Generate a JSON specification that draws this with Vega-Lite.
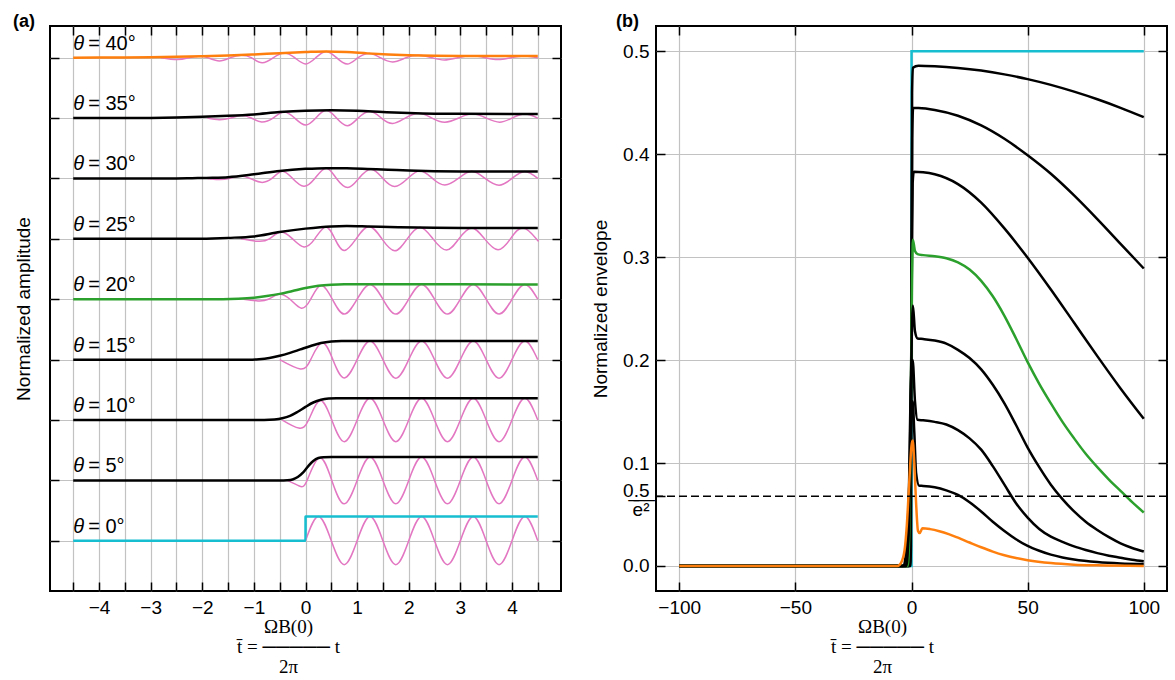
{
"$schema":"https://vega.github.io/schema/vega-lite/v6.json",
"background":"white",
"padding":{"left":12,"top":12,"right":4,"bottom":0},
"spacing":27,
"config":{
 "view":{"stroke":"black","strokeWidth":2},
 "axis":{"domain":false,"ticks":true,"tickColor":"black","tickWidth":1.5,"tickSize":-9,"labelFont":"Liberation Sans","labelFontSize":19,"labelColor":"black","labelPadding":16,"titleFont":"Liberation Sans","titleFontSize":19,"titleFontWeight":"normal","titleColor":"black","gridColor":"#c2c2c2","gridWidth":1.2,"labelOverlap":false,"labelFlush":false},
 "title":{"font":"Liberation Sans","fontSize":18,"fontWeight":"bold","anchor":"start","frame":"group","baseline":"alphabetic","offset":-6,"color":"black"}
},
"datasets":{
"pinkL":[
{"s":"p0","x":0,"y":0},{"s":"p0","x":0.25,"y":0.5},{"s":"p0","x":0.5,"y":0},{"s":"p0","x":0.75,"y":-0.49},{"s":"p0","x":1,"y":0},{"s":"p0","x":1.25,"y":0.5},{"s":"p0","x":1.5,"y":0},{"s":"p0","x":1.75,"y":-0.49},{"s":"p0","x":2,"y":0},{"s":"p0","x":2.25,"y":0.5},{"s":"p0","x":2.5,"y":0},{"s":"p0","x":2.75,"y":-0.49},{"s":"p0","x":3,"y":0},{"s":"p0","x":3.25,"y":0.5},{"s":"p0","x":3.5,"y":0},{"s":"p0","x":3.75,"y":-0.49},{"s":"p0","x":4,"y":0},{"s":"p0","x":4.25,"y":0.5},{"s":"p0","x":4.5,"y":0},
{"s":"p5","x":-0.35,"y":1.24},{"s":"p5","x":-0.12,"y":1.125},{"s":"p5","x":0.03,"y":1.24},{"s":"p5","x":0.27,"y":1.705},{"s":"p5","x":0.51,"y":1.24},{"s":"p5","x":0.75,"y":0.76},{"s":"p5","x":1,"y":1.24},{"s":"p5","x":1.25,"y":1.72},{"s":"p5","x":1.5,"y":1.24},{"s":"p5","x":1.75,"y":0.76},{"s":"p5","x":2,"y":1.24},{"s":"p5","x":2.25,"y":1.72},{"s":"p5","x":2.5,"y":1.24},{"s":"p5","x":2.75,"y":0.76},{"s":"p5","x":3,"y":1.24},{"s":"p5","x":3.25,"y":1.72},{"s":"p5","x":3.5,"y":1.24},{"s":"p5","x":3.75,"y":0.76},{"s":"p5","x":4,"y":1.24},{"s":"p5","x":4.25,"y":1.72},{"s":"p5","x":4.5,"y":1.24},
{"s":"p10","x":-0.45,"y":2.48},{"s":"p10","x":-0.13,"y":2.315},{"s":"p10","x":0.06,"y":2.48},{"s":"p10","x":0.28,"y":2.88},{"s":"p10","x":0.51,"y":2.48},{"s":"p10","x":0.75,"y":2.035},{"s":"p10","x":1,"y":2.48},{"s":"p10","x":1.25,"y":2.925},{"s":"p10","x":1.5,"y":2.48},{"s":"p10","x":1.75,"y":2.035},{"s":"p10","x":2,"y":2.48},{"s":"p10","x":2.25,"y":2.925},{"s":"p10","x":2.5,"y":2.48},{"s":"p10","x":2.75,"y":2.035},{"s":"p10","x":3,"y":2.48},{"s":"p10","x":3.25,"y":2.925},{"s":"p10","x":3.5,"y":2.48},{"s":"p10","x":3.75,"y":2.035},{"s":"p10","x":4,"y":2.48},{"s":"p10","x":4.25,"y":2.925},{"s":"p10","x":4.5,"y":2.48},
{"s":"p15","x":-0.5,"y":3.72},{"s":"p15","x":-0.1,"y":3.53},{"s":"p15","x":0.1,"y":3.72},{"s":"p15","x":0.32,"y":4.065},{"s":"p15","x":0.53,"y":3.72},{"s":"p15","x":0.75,"y":3.345},{"s":"p15","x":1,"y":3.72},{"s":"p15","x":1.25,"y":4.103},{"s":"p15","x":1.5,"y":3.72},{"s":"p15","x":1.75,"y":3.337},{"s":"p15","x":2,"y":3.72},{"s":"p15","x":2.25,"y":4.103},{"s":"p15","x":2.5,"y":3.72},{"s":"p15","x":2.75,"y":3.337},{"s":"p15","x":3,"y":3.72},{"s":"p15","x":3.25,"y":4.103},{"s":"p15","x":3.5,"y":3.72},{"s":"p15","x":3.75,"y":3.337},{"s":"p15","x":4,"y":3.72},{"s":"p15","x":4.25,"y":4.103},{"s":"p15","x":4.5,"y":3.72},
{"s":"p20","x":-1.2,"y":4.96},{"s":"p20","x":-0.92,"y":4.925},{"s":"p20","x":-0.72,"y":4.96},{"s":"p20","x":-0.52,"y":5.06},{"s":"p20","x":-0.3,"y":4.96},{"s":"p20","x":-0.08,"y":4.775},{"s":"p20","x":0.1,"y":4.96},{"s":"p20","x":0.3,"y":5.24},{"s":"p20","x":0.52,"y":4.96},{"s":"p20","x":0.75,"y":4.655},{"s":"p20","x":1,"y":4.96},{"s":"p20","x":1.25,"y":5.265},{"s":"p20","x":1.5,"y":4.96},{"s":"p20","x":1.75,"y":4.655},{"s":"p20","x":2,"y":4.96},{"s":"p20","x":2.25,"y":5.265},{"s":"p20","x":2.5,"y":4.96},{"s":"p20","x":2.75,"y":4.655},{"s":"p20","x":3,"y":4.96},{"s":"p20","x":3.25,"y":5.265},{"s":"p20","x":3.5,"y":4.96},{"s":"p20","x":3.75,"y":4.655},{"s":"p20","x":4,"y":4.96},{"s":"p20","x":4.25,"y":5.265},{"s":"p20","x":4.5,"y":4.96},
{"s":"p25","x":-1.25,"y":6.2},{"s":"p25","x":-0.93,"y":6.15},{"s":"p25","x":-0.7,"y":6.2},{"s":"p25","x":-0.48,"y":6.34},{"s":"p25","x":-0.25,"y":6.2},{"s":"p25","x":-0.03,"y":6.035},{"s":"p25","x":0.18,"y":6.2},{"s":"p25","x":0.39,"y":6.445},{"s":"p25","x":0.57,"y":6.2},{"s":"p25","x":0.75,"y":5.96},{"s":"p25","x":0.98,"y":6.2},{"s":"p25","x":1.23,"y":6.455},{"s":"p25","x":1.48,"y":6.2},{"s":"p25","x":1.73,"y":5.955},{"s":"p25","x":1.97,"y":6.2},{"s":"p25","x":2.22,"y":6.44},{"s":"p25","x":2.47,"y":6.2},{"s":"p25","x":2.73,"y":5.97},{"s":"p25","x":2.97,"y":6.2},{"s":"p25","x":3.22,"y":6.425},{"s":"p25","x":3.47,"y":6.2},{"s":"p25","x":3.73,"y":5.975},{"s":"p25","x":3.97,"y":6.2},{"s":"p25","x":4.22,"y":6.423},{"s":"p25","x":4.47,"y":6.2},{"s":"p25","x":4.5,"y":6.175},
{"s":"p30","x":-1.9,"y":7.44},{"s":"p30","x":-1.69,"y":7.42},{"s":"p30","x":-1.48,"y":7.44},{"s":"p30","x":-1.27,"y":7.49},{"s":"p30","x":-1.07,"y":7.44},{"s":"p30","x":-0.86,"y":7.36},{"s":"p30","x":-0.65,"y":7.44},{"s":"p30","x":-0.45,"y":7.59},{"s":"p30","x":-0.25,"y":7.44},{"s":"p30","x":-0.03,"y":7.28},{"s":"p30","x":0.18,"y":7.44},{"s":"p30","x":0.4,"y":7.65},{"s":"p30","x":0.6,"y":7.44},{"s":"p30","x":0.82,"y":7.255},{"s":"p30","x":1.03,"y":7.44},{"s":"p30","x":1.27,"y":7.63},{"s":"p30","x":1.5,"y":7.44},{"s":"p30","x":1.73,"y":7.275},{"s":"p30","x":1.98,"y":7.44},{"s":"p30","x":2.22,"y":7.598},{"s":"p30","x":2.46,"y":7.44},{"s":"p30","x":2.7,"y":7.305},{"s":"p30","x":2.96,"y":7.44},{"s":"p30","x":3.22,"y":7.587},{"s":"p30","x":3.48,"y":7.44},{"s":"p30","x":3.75,"y":7.3},{"s":"p30","x":4,"y":7.44},{"s":"p30","x":4.25,"y":7.583},{"s":"p30","x":4.5,"y":7.44},
{"s":"p35","x":-1.9,"y":8.68},{"s":"p35","x":-1.67,"y":8.645},{"s":"p35","x":-1.45,"y":8.68},{"s":"p35","x":-1.25,"y":8.73},{"s":"p35","x":-1.05,"y":8.68},{"s":"p35","x":-0.85,"y":8.6},{"s":"p35","x":-0.63,"y":8.68},{"s":"p35","x":-0.42,"y":8.805},{"s":"p35","x":-0.21,"y":8.68},{"s":"p35","x":0,"y":8.535},{"s":"p35","x":0.2,"y":8.68},{"s":"p35","x":0.4,"y":8.838},{"s":"p35","x":0.6,"y":8.68},{"s":"p35","x":0.81,"y":8.522},{"s":"p35","x":1.02,"y":8.68},{"s":"p35","x":1.25,"y":8.82},{"s":"p35","x":1.47,"y":8.68},{"s":"p35","x":1.69,"y":8.57},{"s":"p35","x":1.93,"y":8.68},{"s":"p35","x":2.2,"y":8.78},{"s":"p35","x":2.45,"y":8.68},{"s":"p35","x":2.7,"y":8.595},{"s":"p35","x":2.97,"y":8.68},{"s":"p35","x":3.23,"y":8.766},{"s":"p35","x":3.5,"y":8.68},{"s":"p35","x":3.76,"y":8.595},{"s":"p35","x":4,"y":8.68},{"s":"p35","x":4.25,"y":8.765},{"s":"p35","x":4.5,"y":8.68},
{"s":"p40","x":-2.8,"y":9.92},{"s":"p40","x":-2.48,"y":9.88},{"s":"p40","x":-2.25,"y":9.92},{"s":"p40","x":-2.07,"y":9.947},{"s":"p40","x":-1.9,"y":9.92},{"s":"p40","x":-1.67,"y":9.852},{"s":"p40","x":-1.45,"y":9.92},{"s":"p40","x":-1.25,"y":9.97},{"s":"p40","x":-1.05,"y":9.92},{"s":"p40","x":-0.84,"y":9.815},{"s":"p40","x":-0.62,"y":9.92},{"s":"p40","x":-0.42,"y":10.015},{"s":"p40","x":-0.21,"y":9.92},{"s":"p40","x":0,"y":9.792},{"s":"p40","x":0.2,"y":9.92},{"s":"p40","x":0.4,"y":10.048},{"s":"p40","x":0.6,"y":9.92},{"s":"p40","x":0.81,"y":9.788},{"s":"p40","x":1.02,"y":9.92},{"s":"p40","x":1.24,"y":10.005},{"s":"p40","x":1.45,"y":9.92},{"s":"p40","x":1.69,"y":9.832},{"s":"p40","x":1.95,"y":9.92},{"s":"p40","x":2.2,"y":9.97},{"s":"p40","x":2.45,"y":9.92},{"s":"p40","x":2.69,"y":9.872},{"s":"p40","x":2.95,"y":9.92},{"s":"p40","x":3.22,"y":9.957},{"s":"p40","x":3.48,"y":9.92},{"s":"p40","x":3.73,"y":9.88},{"s":"p40","x":3.98,"y":9.92},{"s":"p40","x":4.24,"y":9.955},{"s":"p40","x":4.5,"y":9.92}
],
"envL":[
{"s":"e0","x":-4.5,"y":0},{"s":"e0","x":0,"y":0},{"s":"e0","x":0.001,"y":0.5},{"s":"e0","x":4.5,"y":0.5},
{"s":"e5","x":-4.5,"y":1.24},{"s":"e5","x":-0.5,"y":1.24},{"s":"e5","x":-0.35,"y":1.245},{"s":"e5","x":-0.25,"y":1.26},{"s":"e5","x":-0.15,"y":1.31},{"s":"e5","x":-0.05,"y":1.4},{"s":"e5","x":0.05,"y":1.53},{"s":"e5","x":0.15,"y":1.64},{"s":"e5","x":0.25,"y":1.7},{"s":"e5","x":0.35,"y":1.718},{"s":"e5","x":0.5,"y":1.722},{"s":"e5","x":4.5,"y":1.72},
{"s":"e10","x":-4.5,"y":2.48},{"s":"e10","x":-0.8,"y":2.48},{"s":"e10","x":-0.6,"y":2.49},{"s":"e10","x":-0.45,"y":2.515},{"s":"e10","x":-0.3,"y":2.565},{"s":"e10","x":-0.15,"y":2.65},{"s":"e10","x":0,"y":2.75},{"s":"e10","x":0.15,"y":2.84},{"s":"e10","x":0.3,"y":2.895},{"s":"e10","x":0.45,"y":2.92},{"s":"e10","x":0.6,"y":2.927},{"s":"e10","x":4.5,"y":2.925},
{"s":"e15","x":-4.5,"y":3.72},{"s":"e15","x":-1.1,"y":3.72},{"s":"e15","x":-0.9,"y":3.73},{"s":"e15","x":-0.7,"y":3.755},{"s":"e15","x":-0.5,"y":3.8},{"s":"e15","x":-0.3,"y":3.86},{"s":"e15","x":-0.1,"y":3.93},{"s":"e15","x":0.1,"y":4.0},{"s":"e15","x":0.3,"y":4.06},{"s":"e15","x":0.5,"y":4.092},{"s":"e15","x":0.7,"y":4.103},{"s":"e15","x":1,"y":4.105},{"s":"e15","x":4.5,"y":4.103},
{"s":"e20","x":-4.5,"y":4.96},{"s":"e20","x":-1.6,"y":4.96},{"s":"e20","x":-1.3,"y":4.968},{"s":"e20","x":-1,"y":4.99},{"s":"e20","x":-0.75,"y":5.025},{"s":"e20","x":-0.5,"y":5.07},{"s":"e20","x":-0.25,"y":5.13},{"s":"e20","x":0,"y":5.19},{"s":"e20","x":0.25,"y":5.235},{"s":"e20","x":0.5,"y":5.258},{"s":"e20","x":0.75,"y":5.268},{"s":"e20","x":1,"y":5.269},{"s":"e20","x":1.5,"y":5.266},{"s":"e20","x":4.5,"y":5.265},
{"s":"e25","x":-4.5,"y":6.2},{"s":"e25","x":-2.2,"y":6.2},{"s":"e25","x":-1.8,"y":6.208},{"s":"e25","x":-1.5,"y":6.22},{"s":"e25","x":-1,"y":6.25},{"s":"e25","x":-0.5,"y":6.34},{"s":"e25","x":0,"y":6.41},{"s":"e25","x":0.5,"y":6.455},{"s":"e25","x":0.8,"y":6.462},{"s":"e25","x":1.2,"y":6.455},{"s":"e25","x":1.8,"y":6.44},{"s":"e25","x":2.5,"y":6.428},{"s":"e25","x":3.5,"y":6.424},{"s":"e25","x":4.5,"y":6.423},
{"s":"e30","x":-4.5,"y":7.44},{"s":"e30","x":-2.5,"y":7.44},{"s":"e30","x":-2.2,"y":7.445},{"s":"e30","x":-1.8,"y":7.453},{"s":"e30","x":-1.5,"y":7.467},{"s":"e30","x":-1,"y":7.525},{"s":"e30","x":-0.5,"y":7.595},{"s":"e30","x":0,"y":7.637},{"s":"e30","x":0.4,"y":7.652},{"s":"e30","x":0.8,"y":7.648},{"s":"e30","x":1.2,"y":7.635},{"s":"e30","x":1.6,"y":7.62},{"s":"e30","x":2,"y":7.603},{"s":"e30","x":2.5,"y":7.59},{"s":"e30","x":3,"y":7.585},{"s":"e30","x":4.5,"y":7.583},
{"s":"e35","x":-4.5,"y":8.68},{"s":"e35","x":-3,"y":8.683},{"s":"e35","x":-2.5,"y":8.69},{"s":"e35","x":-2,"y":8.705},{"s":"e35","x":-1.5,"y":8.725},{"s":"e35","x":-1,"y":8.755},{"s":"e35","x":-0.5,"y":8.802},{"s":"e35","x":0,"y":8.83},{"s":"e35","x":0.5,"y":8.838},{"s":"e35","x":1,"y":8.83},{"s":"e35","x":1.5,"y":8.805},{"s":"e35","x":2,"y":8.783},{"s":"e35","x":2.5,"y":8.77},{"s":"e35","x":3,"y":8.766},{"s":"e35","x":4.5,"y":8.765},
{"s":"e40","x":-4.5,"y":9.92},{"s":"e40","x":-4,"y":9.922},{"s":"e40","x":-3.5,"y":9.925},{"s":"e40","x":-3,"y":9.93},{"s":"e40","x":-2.5,"y":9.938},{"s":"e40","x":-2,"y":9.948},{"s":"e40","x":-1.5,"y":9.962},{"s":"e40","x":-1,"y":9.985},{"s":"e40","x":-0.5,"y":10.012},{"s":"e40","x":0,"y":10.035},{"s":"e40","x":0.4,"y":10.048},{"s":"e40","x":0.8,"y":10.035},{"s":"e40","x":1.2,"y":10.008},{"s":"e40","x":1.6,"y":9.985},{"s":"e40","x":2,"y":9.97},{"s":"e40","x":2.5,"y":9.96},{"s":"e40","x":3,"y":9.956},{"s":"e40","x":4.5,"y":9.955}
],
"labL":[
{"x":-4.5,"y":0,"t":"= 0°"},{"x":-4.5,"y":1.24,"t":"= 5°"},{"x":-4.5,"y":2.48,"t":"= 10°"},{"x":-4.5,"y":3.72,"t":"= 15°"},{"x":-4.5,"y":4.96,"t":"= 20°"},{"x":-4.5,"y":6.2,"t":"= 25°"},{"x":-4.5,"y":7.44,"t":"= 30°"},{"x":-4.5,"y":8.68,"t":"= 35°"},{"x":-4.5,"y":9.92,"t":"= 40°"}
],
"envR":[
{"s":"r0","x":-100,"y":0},{"s":"r0","x":0,"y":0},{"s":"r0","x":0.01,"y":0.5},{"s":"r0","x":100,"y":0.5},
{"s":"r5","x":-100,"y":0},{"s":"r5","x":-0.5,"y":0},{"s":"r5","x":-0.25,"y":0.02},{"s":"r5","x":0,"y":0.22},{"s":"r5","x":0.25,"y":0.46},{"s":"r5","x":0.6,"y":0.484},{"s":"r5","x":3,"y":0.486},{"s":"r5","x":10,"y":0.4855},{"s":"r5","x":20,"y":0.4839},{"s":"r5","x":30,"y":0.4813},{"s":"r5","x":40,"y":0.4776},{"s":"r5","x":50,"y":0.473},{"s":"r5","x":60,"y":0.4674},{"s":"r5","x":70,"y":0.4608},{"s":"r5","x":80,"y":0.4534},{"s":"r5","x":90,"y":0.4451},{"s":"r5","x":100,"y":0.436},
{"s":"r10","x":-100,"y":0},{"s":"r10","x":-0.8,"y":0},{"s":"r10","x":-0.3,"y":0.085},{"s":"r10","x":0,"y":0.27},{"s":"r10","x":0.3,"y":0.415},{"s":"r10","x":0.7,"y":0.445},{"s":"r10","x":3,"y":0.4449},{"s":"r10","x":10,"y":0.443},{"s":"r10","x":20,"y":0.4374},{"s":"r10","x":30,"y":0.428},{"s":"r10","x":40,"y":0.415},{"s":"r10","x":50,"y":0.399},{"s":"r10","x":60,"y":0.381},{"s":"r10","x":70,"y":0.36},{"s":"r10","x":80,"y":0.337},{"s":"r10","x":90,"y":0.313},{"s":"r10","x":100,"y":0.289},
{"s":"r15","x":-100,"y":0},{"s":"r15","x":-1.1,"y":0},{"s":"r15","x":-0.5,"y":0.08},{"s":"r15","x":0,"y":0.245},{"s":"r15","x":0.5,"y":0.372},{"s":"r15","x":1,"y":0.383},{"s":"r15","x":5,"y":0.3825},{"s":"r15","x":10,"y":0.3805},{"s":"r15","x":20,"y":0.371},{"s":"r15","x":30,"y":0.353},{"s":"r15","x":40,"y":0.328},{"s":"r15","x":50,"y":0.2995},{"s":"r15","x":60,"y":0.2686},{"s":"r15","x":70,"y":0.2363},{"s":"r15","x":80,"y":0.2039},{"s":"r15","x":90,"y":0.1725},{"s":"r15","x":100,"y":0.143},
{"s":"r20","x":-100,"y":0},{"s":"r20","x":-1.6,"y":0},{"s":"r20","x":-1,"y":0.03},{"s":"r20","x":-0.5,"y":0.11},{"s":"r20","x":0,"y":0.23},{"s":"r20","x":0.6,"y":0.317},{"s":"r20","x":1.5,"y":0.306},{"s":"r20","x":2.6,"y":0.303},{"s":"r20","x":5,"y":0.302},{"s":"r20","x":10,"y":0.301},{"s":"r20","x":15,"y":0.299},{"s":"r20","x":20,"y":0.295},{"s":"r20","x":25,"y":0.288},{"s":"r20","x":30,"y":0.277},{"s":"r20","x":35,"y":0.262},{"s":"r20","x":40,"y":0.243},{"s":"r20","x":45,"y":0.221},{"s":"r20","x":50,"y":0.198},{"s":"r20","x":55,"y":0.177},{"s":"r20","x":60,"y":0.158},{"s":"r20","x":65,"y":0.14},{"s":"r20","x":70,"y":0.124},{"s":"r20","x":75,"y":0.109},{"s":"r20","x":80,"y":0.096},{"s":"r20","x":85,"y":0.084},{"s":"r20","x":90,"y":0.073},{"s":"r20","x":95,"y":0.062},{"s":"r20","x":100,"y":0.052},
{"s":"r25","x":-100,"y":0},{"s":"r25","x":-2.2,"y":0},{"s":"r25","x":-1.5,"y":0.02},{"s":"r25","x":-1,"y":0.05},{"s":"r25","x":-0.5,"y":0.14},{"s":"r25","x":0,"y":0.21},{"s":"r25","x":0.6,"y":0.253},{"s":"r25","x":1.5,"y":0.228},{"s":"r25","x":2.6,"y":0.221},{"s":"r25","x":5,"y":0.2205},{"s":"r25","x":10,"y":0.219},{"s":"r25","x":15,"y":0.216},{"s":"r25","x":20,"y":0.21},{"s":"r25","x":25,"y":0.202},{"s":"r25","x":30,"y":0.191},{"s":"r25","x":35,"y":0.176},{"s":"r25","x":40,"y":0.158},{"s":"r25","x":45,"y":0.137},{"s":"r25","x":50,"y":0.115},{"s":"r25","x":55,"y":0.096},{"s":"r25","x":60,"y":0.079},{"s":"r25","x":65,"y":0.065},{"s":"r25","x":70,"y":0.053},{"s":"r25","x":75,"y":0.043},{"s":"r25","x":80,"y":0.035},{"s":"r25","x":85,"y":0.028},{"s":"r25","x":90,"y":0.022},{"s":"r25","x":95,"y":0.0175},{"s":"r25","x":100,"y":0.014},
{"s":"r30","x":-100,"y":0},{"s":"r30","x":-2.5,"y":0},{"s":"r30","x":-1.5,"y":0.027},{"s":"r30","x":-1,"y":0.085},{"s":"r30","x":-0.5,"y":0.155},{"s":"r30","x":0,"y":0.19},{"s":"r30","x":0.5,"y":0.2},{"s":"r30","x":1.5,"y":0.16},{"s":"r30","x":2.6,"y":0.142},{"s":"r30","x":5,"y":0.1415},{"s":"r30","x":10,"y":0.14},{"s":"r30","x":15,"y":0.1375},{"s":"r30","x":20,"y":0.132},{"s":"r30","x":25,"y":0.124},{"s":"r30","x":30,"y":0.113},{"s":"r30","x":35,"y":0.097},{"s":"r30","x":40,"y":0.079},{"s":"r30","x":45,"y":0.061},{"s":"r30","x":50,"y":0.047},{"s":"r30","x":55,"y":0.036},{"s":"r30","x":60,"y":0.0285},{"s":"r30","x":65,"y":0.0235},{"s":"r30","x":70,"y":0.019},{"s":"r30","x":75,"y":0.0155},{"s":"r30","x":80,"y":0.0125},{"s":"r30","x":85,"y":0.01},{"s":"r30","x":90,"y":0.008},{"s":"r30","x":95,"y":0.006},{"s":"r30","x":100,"y":0.0045},
{"s":"r35","x":-100,"y":0},{"s":"r35","x":-3.5,"y":0},{"s":"r35","x":-2.5,"y":0.01},{"s":"r35","x":-2,"y":0.025},{"s":"r35","x":-1,"y":0.075},{"s":"r35","x":0,"y":0.15},{"s":"r35","x":0.5,"y":0.16},{"s":"r35","x":1.2,"y":0.13},{"s":"r35","x":2,"y":0.09},{"s":"r35","x":3.3,"y":0.078},{"s":"r35","x":5,"y":0.0778},{"s":"r35","x":10,"y":0.0765},{"s":"r35","x":15,"y":0.0735},{"s":"r35","x":20,"y":0.069},{"s":"r35","x":25,"y":0.062},{"s":"r35","x":30,"y":0.053},{"s":"r35","x":35,"y":0.043},{"s":"r35","x":40,"y":0.034},{"s":"r35","x":45,"y":0.026},{"s":"r35","x":50,"y":0.0195},{"s":"r35","x":55,"y":0.0148},{"s":"r35","x":60,"y":0.011},{"s":"r35","x":65,"y":0.0083},{"s":"r35","x":70,"y":0.0063},{"s":"r35","x":80,"y":0.0038},{"s":"r35","x":90,"y":0.0025},{"s":"r35","x":100,"y":0.002},
{"s":"r40","x":-100,"y":0},{"s":"r40","x":-6,"y":0},{"s":"r40","x":-4.5,"y":0.003},{"s":"r40","x":-3,"y":0.015},{"s":"r40","x":-2,"y":0.04},{"s":"r40","x":-1,"y":0.08},{"s":"r40","x":0,"y":0.117},{"s":"r40","x":0.5,"y":0.122},{"s":"r40","x":1.2,"y":0.1},{"s":"r40","x":2,"y":0.06},{"s":"r40","x":2.8,"y":0.034},{"s":"r40","x":3.5,"y":0.032},{"s":"r40","x":4.7,"y":0.0366},{"s":"r40","x":8,"y":0.0358},{"s":"r40","x":12,"y":0.0338},{"s":"r40","x":16,"y":0.031},{"s":"r40","x":20,"y":0.0275},{"s":"r40","x":25,"y":0.0228},{"s":"r40","x":30,"y":0.0182},{"s":"r40","x":35,"y":0.014},{"s":"r40","x":40,"y":0.0105},{"s":"r40","x":45,"y":0.0077},{"s":"r40","x":50,"y":0.0056},{"s":"r40","x":60,"y":0.0028},{"s":"r40","x":70,"y":0.0013},{"s":"r40","x":80,"y":0.0006},{"s":"r40","x":100,"y":0}
],
"dashR":[{"y":0.0677}]
},
"hconcat":[
{
 "width":511,"height":565,
 "title":{"text":"(a)","dx":-37},
 "resolve":{"axis":{"x":"independent","y":"independent"}},
 "layer":[
  {"data":{"name":"pinkL"},
   "mark":{"type":"line","interpolate":"natural","color":"#e377c2","strokeWidth":1.5},
   "encoding":{
    "x":{"field":"x","type":"quantitative","scale":{"domain":[-4.95,4.95],"nice":false,"zero":false},
     "axis":{"orient":"bottom","values":[-4.5,-4,-3.5,-3,-2.5,-2,-1.5,-1,-0.5,0,0.5,1,1.5,2,2.5,3,3.5,4,4.5],"labelExpr":"datum.value % 1 == 0 ? format(datum.value, 'd') : ''","grid":true,
      "title":["ΩB(0)","t\u0304 = ───── t\u00a0\u00a0\u00a0","2π"],"titleFont":"Liberation Serif","titleFontSize":19,"titleLineHeight":20,"titleBaseline":"top","titleX":238,"titleY":26}},
    "y":{"field":"y","type":"quantitative","scale":{"domain":[-1.03,10.57],"nice":false,"zero":false},
     "axis":{"orient":"left","values":[0,1.24,2.48,3.72,4.96,6.2,7.44,8.68,9.92],"labels":false,"grid":true,"title":"Normalized amplitude","titlePadding":16}},
    "detail":{"field":"s","type":"nominal"}}},
  {"data":{"name":"envL"},
   "mark":{"type":"line","interpolate":"monotone","strokeWidth":2.5},
   "encoding":{
    "x":{"field":"x","type":"quantitative","scale":{"domain":[-4.95,4.95],"nice":false,"zero":false},
     "axis":{"orient":"top","values":[-4.5,-4,-3.5,-3,-2.5,-2,-1.5,-1,-0.5,0,0.5,1,1.5,2,2.5,3,3.5,4,4.5],"labels":false,"grid":false,"title":null}},
    "y":{"field":"y","type":"quantitative","scale":{"domain":[-1.03,10.57],"nice":false,"zero":false},
     "axis":{"orient":"right","values":[0,1.24,2.48,3.72,4.96,6.2,7.44,8.68,9.92],"labels":false,"grid":false,"title":null}},
    "color":{"field":"s","type":"nominal","scale":{"domain":["e0","e5","e10","e15","e20","e25","e30","e35","e40"],"range":["#17becf","#000000","#000000","#000000","#2ca02c","#000000","#000000","#000000","#ff7f0e"]},"legend":null}}},
  {"data":{"name":"labL"},
   "mark":{"type":"text","text":"θ","font":"Liberation Sans","fontStyle":"italic","fontSize":20,"align":"left","baseline":"alphabetic","dy":-8,"color":"black"},
   "encoding":{
    "x":{"field":"x","type":"quantitative","scale":{"domain":[-4.95,4.95],"nice":false,"zero":false},"axis":null},
    "y":{"field":"y","type":"quantitative","scale":{"domain":[-1.03,10.57],"nice":false,"zero":false},"axis":null}}},
  {"data":{"name":"labL"},
   "mark":{"type":"text","font":"Liberation Sans","fontSize":20,"align":"left","baseline":"alphabetic","dx":15,"dy":-8,"color":"black"},
   "encoding":{
    "x":{"field":"x","type":"quantitative","scale":{"domain":[-4.95,4.95],"nice":false,"zero":false},"axis":null},
    "y":{"field":"y","type":"quantitative","scale":{"domain":[-1.03,10.57],"nice":false,"zero":false},"axis":null},
    "text":{"field":"t","type":"nominal"}}}
 ]
},
{
 "width":511,"height":565,
 "title":{"text":"(b)","dx":-40},
 "resolve":{"axis":{"x":"independent","y":"independent"}},
 "layer":[
  {"data":{"name":"envR"},
   "transform":[{"filter":{"field":"s","oneOf":["r0","r5","r10","r15","r20"]}}],
   "mark":{"type":"line","interpolate":"monotone","strokeWidth":2.5},
   "encoding":{
    "x":{"field":"x","type":"quantitative","scale":{"domain":[-110,110],"nice":false,"zero":false},
     "axis":{"orient":"bottom","values":[-100,-50,0,50,100],"grid":true,
      "title":["ΩB(0)","t\u0304 = ───── t\u00a0\u00a0\u00a0","2π"],"titleFont":"Liberation Serif","titleFontSize":19,"titleLineHeight":20,"titleBaseline":"top","titleX":226,"titleY":26}},
    "y":{"field":"y","type":"quantitative","scale":{"domain":[-0.0243,0.5246],"nice":false,"zero":false},
     "axis":{"orient":"left","values":[0,0.0677,0.1,0.2,0.3,0.4,0.5],"labelExpr":"datum.value > 0.05 && datum.value < 0.09 ? ['0\u0332.\u03325\u0332', 'e²'] : format(datum.value, '.1f')","labelBaseline":{"condition":{"test":"datum.value > 0.05 && datum.value < 0.09","value":"alphabetic"},"value":"middle"},"labelLineHeight":19,"grid":false,"title":"Normalized envelope","titlePadding":12}},
    "color":{"field":"s","type":"nominal","scale":{"domain":["r0","r5","r10","r15","r20","r25","r30","r35","r40"],"range":["#17becf","#000000","#000000","#000000","#2ca02c","#000000","#000000","#000000","#ff7f0e"]},"legend":null}}},
  {"data":{"name":"envR"},
   "transform":[{"filter":{"field":"s","oneOf":["r25","r30","r35","r40"]}}],
   "mark":{"type":"line","interpolate":"monotone","strokeWidth":2.5},
   "encoding":{
    "x":{"field":"x","type":"quantitative","scale":{"domain":[-110,110],"nice":false,"zero":false},
     "axis":{"orient":"top","values":[-100,-50,0,50,100],"labels":false,"grid":false,"title":null}},
    "y":{"field":"y","type":"quantitative","scale":{"domain":[-0.0243,0.5246],"nice":false,"zero":false},"axis":null},
    "color":{"field":"s","type":"nominal","scale":{"domain":["r0","r5","r10","r15","r20","r25","r30","r35","r40"],"range":["#17becf","#000000","#000000","#000000","#2ca02c","#000000","#000000","#000000","#ff7f0e"]},"legend":null}}},
  {"data":{"name":"dashR"},
   "mark":{"type":"rule","strokeDash":[8,4],"strokeWidth":1.5,"color":"black"},
   "encoding":{
    "y":{"field":"y","type":"quantitative","scale":{"domain":[-0.0243,0.5246],"nice":false,"zero":false},
     "axis":{"orient":"right","values":[0,0.1,0.2,0.3,0.4,0.5],"labels":false,"grid":true,"title":null}}}}
 ]
}
]
}
